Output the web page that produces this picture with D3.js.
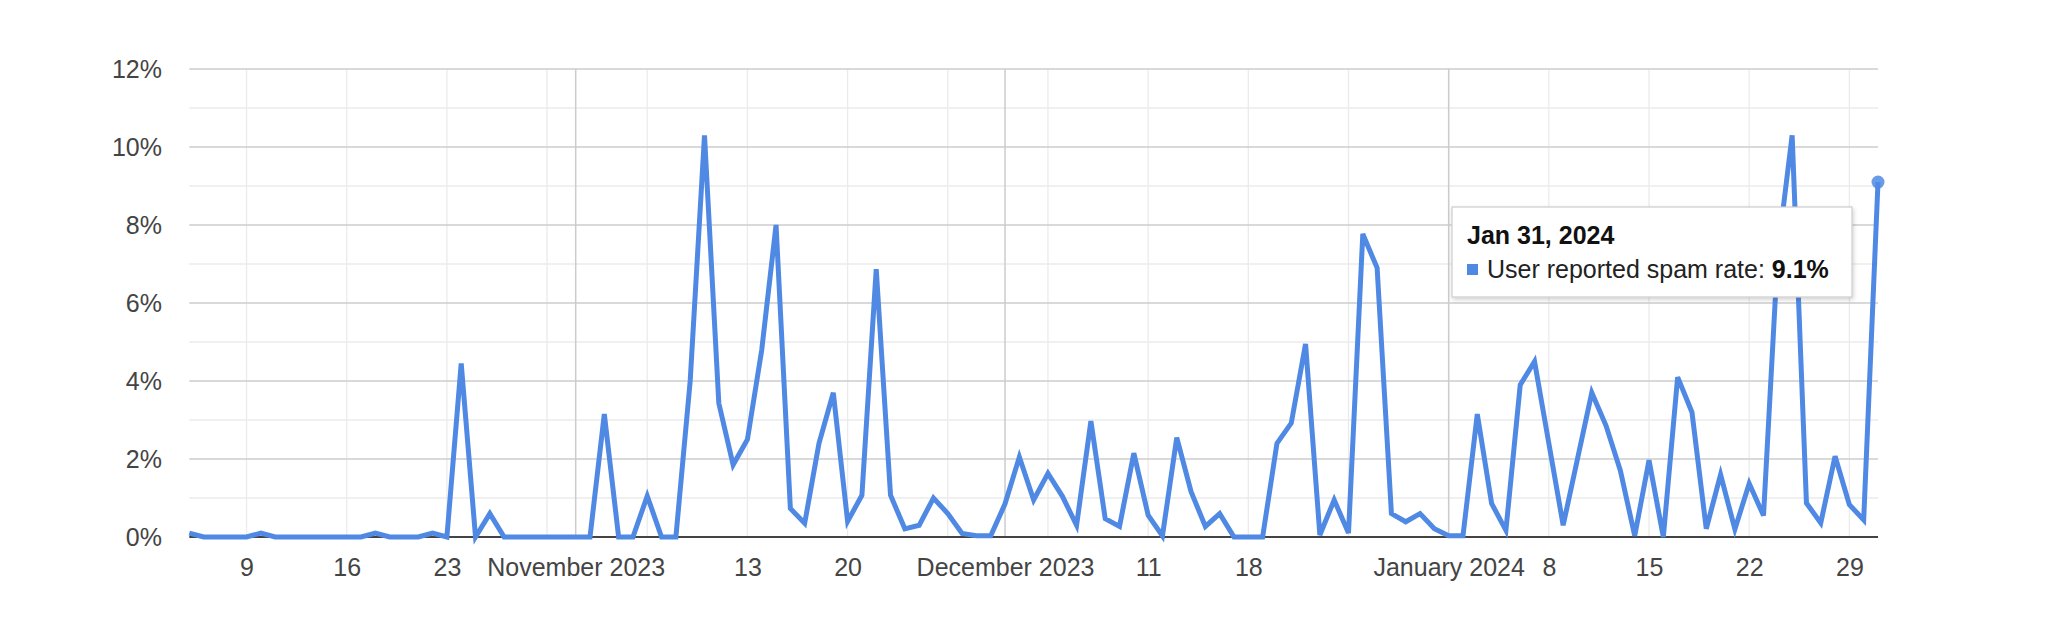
<!DOCTYPE html>
<html>
<head>
<meta charset="utf-8">
<script src="https://cdn.jsdelivr.net/npm/d3@7"></script>
<style>
  html, body { margin: 0; padding: 0; background: #fff; }
  svg { display: block; }
  text { font-family: Arial, "Liberation Sans", sans-serif; }
</style>
</head>
<body>
<svg id="chart" width="2048" height="640"></svg>
<script>
// ---- data ----
const startDate = "2023-10-05";
const seriesName = "User reported spam rate";
// daily values (%), Oct 5 2023 .. Jan 31 2024
const spamRate = [
  0.1, 0, 0, 0, 0, 0.1, 0, 0, 0, 0,
  0, 0, 0, 0.1, 0, 0, 0, 0.1, 0, 4.45,
  0, 0.6, 0, 0, 0, 0, 0, 0, 0, 3.15,
  0, 0, 1.05, 0, 0, 4.0, 10.3, 3.43, 1.85, 2.5,
  4.8, 8.0, 0.73, 0.35, 2.4, 3.7, 0.4, 1.07, 6.87, 1.07,
  0.21, 0.3, 1.0, 0.6, 0.09, 0.03, 0.03, 0.85, 2.05, 0.95,
  1.63, 1.05, 0.3, 2.97, 0.47, 0.27, 2.15, 0.56, 0.03, 2.55,
  1.16, 0.27, 0.6, 0, 0, 0, 2.4, 2.92, 4.95, 0.05,
  0.95, 0.1, 7.77, 6.9, 0.6, 0.39, 0.6, 0.21, 0.03, 0.03,
  3.15, 0.86, 0.17, 3.9, 4.5, 2.4, 0.3, 2.0, 3.7, 2.85,
  1.7, 0.03, 1.97, 0, 4.1, 3.2, 0.21, 1.6, 0.2, 1.37,
  0.55, 7.3, 10.3, 0.87, 0.36, 2.07, 0.83, 0.44, 9.1
];
const yTicks = [0, 2, 4, 6, 8, 10, 12];
const yMinorTicks = [1, 3, 5, 7, 9, 11];
const xTickDates = ["2023-10-09","2023-10-16","2023-10-23","2023-11-01","2023-11-13","2023-11-20",
                    "2023-12-01","2023-12-11","2023-12-18","2024-01-01","2024-01-08","2024-01-15",
                    "2024-01-22","2024-01-29"];
const xTickLabels = ["9","16","23","November 2023","13","20","December 2023","11","18",
                     "January 2024","8","15","22","29"];
const monthLines = ["2023-11-01","2023-12-01","2024-01-01"];
const tooltipTitle = "Jan 31, 2024";

// ---- build ----
(function () {
const parse = d3.utcParse("%Y-%m-%d");
const t0 = parse(startDate);
const data = spamRate.map((v, i) => ({ date: d3.utcDay.offset(t0, i), value: v }));

const svg = d3.select("#chart");
const pL = 189.3, pR = 1878, pT = 69, pB = 537;

const x = d3.scaleUtc().domain([data[0].date, data[data.length - 1].date]).range([pL, pR]);
const y = d3.scaleLinear().domain([0, 12]).range([pB, pT]);

const blue = "#4f89e4";

// weekly gridlines (Mondays)
const weekLines = d3.utcMonday.range(data[0].date, d3.utcDay.offset(data[data.length - 1].date, 1));
svg.append("g").selectAll("line").data(weekLines).join("line")
  .attr("x1", d => x(d)).attr("x2", d => x(d))
  .attr("y1", pT).attr("y2", pB)
  .attr("stroke", "#ebebeb").attr("stroke-width", 1.3);

// minor horizontal gridlines
svg.append("g").selectAll("line").data(yMinorTicks).join("line")
  .attr("x1", pL).attr("x2", pR)
  .attr("y1", d => y(d)).attr("y2", d => y(d))
  .attr("stroke", "#ebebeb").attr("stroke-width", 1.3);

// month gridlines
svg.append("g").selectAll("line").data(monthLines.map(parse)).join("line")
  .attr("x1", d => x(d)).attr("x2", d => x(d))
  .attr("y1", pT).attr("y2", pB)
  .attr("stroke", "#cccccc").attr("stroke-width", 1.5);

// major horizontal gridlines
svg.append("g").selectAll("line").data(yTicks.filter(d => d > 0)).join("line")
  .attr("x1", pL).attr("x2", pR)
  .attr("y1", d => y(d)).attr("y2", d => y(d))
  .attr("stroke", "#cccccc").attr("stroke-width", 1.5);

// baseline
svg.append("line")
  .attr("x1", pL).attr("x2", pR)
  .attr("y1", y(0)).attr("y2", y(0))
  .attr("stroke", "#444").attr("stroke-width", 2);

// y axis labels
const yAxis = d3.axisLeft(y).tickValues(yTicks).tickSize(0).tickPadding(0)
  .tickFormat(d => d + "%");
const yg = svg.append("g").attr("transform", `translate(${162},0)`).call(yAxis);
yg.select(".domain").remove();
yg.selectAll("text").attr("font-size", 25).attr("fill", "#444")
  .attr("font-family", "Arial, 'Liberation Sans', sans-serif");

// x axis labels
const xAxis = d3.axisBottom(x).tickValues(xTickDates.map(parse)).tickSize(0).tickPadding(0)
  .tickFormat((d, i) => xTickLabels[i]);
const xg = svg.append("g").attr("transform", `translate(0,${558})`).call(xAxis);
xg.select(".domain").remove();
xg.selectAll("text").attr("font-size", 25).attr("fill", "#444")
  .attr("font-family", "Arial, 'Liberation Sans', sans-serif");

// line
const line = d3.line().x(d => x(d.date)).y(d => y(d.value));
svg.append("path").datum(data)
  .attr("d", line)
  .attr("fill", "none")
  .attr("stroke", blue)
  .attr("stroke-width", 5)
  .attr("stroke-linejoin", "miter")
  .attr("stroke-miterlimit", 4);

// highlighted last point
const last = data[data.length - 1];
svg.append("circle")
  .attr("cx", x(last.date)).attr("cy", y(last.value))
  .attr("r", 6.5).attr("fill", blue).attr("opacity", 0.85);

// tooltip
const defs = svg.append("defs");
const f = defs.append("filter").attr("id", "sh").attr("x", "-10%").attr("y", "-10%")
  .attr("width", "120%").attr("height", "130%");
f.append("feDropShadow").attr("dx", 1).attr("dy", 2).attr("stdDeviation", 2)
  .attr("flood-color", "#000").attr("flood-opacity", 0.18);

const tt = svg.append("g").attr("transform", "translate(1452,207)");
tt.append("rect").attr("width", 400).attr("height", 90)
  .attr("fill", "#fff").attr("stroke", "#cccccc").attr("stroke-width", 1.2)
  .attr("filter", "url(#sh)");
tt.append("text").attr("x", 15).attr("y", 37)
  .attr("font-size", 25).attr("font-weight", "bold").attr("fill", "#111")
  .text(tooltipTitle);
tt.append("rect").attr("x", 15).attr("y", 57).attr("width", 11).attr("height", 11)
  .attr("fill", blue);
const t2 = tt.append("text").attr("x", 35).attr("y", 71)
  .attr("font-size", 25).attr("fill", "#222");
t2.append("tspan").text(seriesName + ": ");
t2.append("tspan").attr("font-weight", "bold").attr("fill", "#111").text(last.value + "%");
})();
</script>
</body>
</html>
